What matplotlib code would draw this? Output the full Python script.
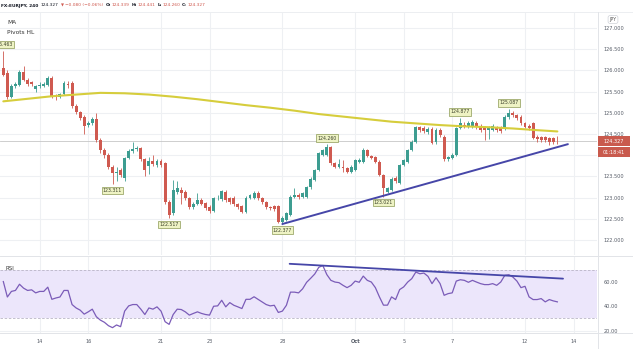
import matplotlib
matplotlib.use("Agg")
import matplotlib.pyplot as plt
from matplotlib.patches import Rectangle
from matplotlib.lines import Line2D
from matplotlib.text import Annotation

# ---- 4h EUR/JPY bars ----
opens = [126.05, 125.95, 125.38, 125.62, 125.66, 125.96, 125.78, 125.72, 125.55, 125.62,
         125.63, 125.66, 125.83, 125.40, 125.37, 125.44, 125.68, 125.70, 125.17, 125.01,
         124.91, 124.72, 124.76, 124.85, 124.36, 124.12, 124.00, 123.73, 123.58, 123.65,
         123.46, 123.93, 124.10, 124.14, 124.16, 123.90, 123.74, 123.87, 123.77, 123.87,
         123.81, 122.90, 122.63, 123.14, 123.18, 123.14, 122.98, 122.78, 122.86, 122.94,
         122.87, 122.78, 122.69, 122.98, 122.96, 123.14, 122.98, 123.00, 122.85, 122.79,
         122.67, 123.00, 123.00, 123.12, 122.98, 122.90, 122.77, 122.79, 122.79, 122.43,
         122.47, 122.59, 123.02, 123.07, 123.01, 123.02, 123.24, 123.42, 123.65, 124.00,
         124.00, 124.19, 123.81, 123.73, 123.73, 123.69, 123.61, 123.65, 123.85, 123.85,
         124.12, 123.98, 123.95, 123.85, 123.53, 123.14, 123.18, 123.47, 123.34, 123.77,
         123.85, 124.12, 124.32, 124.66, 124.64, 124.55, 124.62, 124.30, 124.59, 124.44,
         123.90, 123.93, 124.00, 124.64, 124.72, 124.69, 124.69, 124.77, 124.69, 124.63,
         124.59, 124.59, 124.66, 124.66, 124.64, 124.89, 124.99, 124.95, 124.91, 124.75,
         124.70, 124.75, 124.44, 124.42, 124.42, 124.40, 124.40, 124.339]
highs = [126.463, 126.00, 125.68, 125.72, 126.00, 126.11, 125.82, 125.76, 125.66, 125.72,
         125.73, 125.86, 125.86, 125.44, 125.47, 125.74, 125.74, 125.74, 125.20, 125.04,
         124.95, 124.80, 124.90, 125.00, 124.40, 124.16, 124.04, 123.76, 123.73, 123.70,
         123.96, 124.14, 124.30, 124.22, 124.20, 123.93, 123.95, 124.00, 123.92, 123.91,
         123.85, 122.95, 123.42, 123.38, 123.25, 123.17, 123.02, 122.90, 123.12, 122.98,
         122.90, 122.82, 123.01, 123.05, 123.18, 123.17, 123.01, 123.03, 122.88, 122.82,
         123.03, 123.09, 123.15, 123.15, 123.01, 122.93, 122.80, 122.82, 122.82, 122.56,
         122.66, 123.05, 123.22, 123.10, 123.13, 123.27, 123.48, 123.68, 124.07, 124.15,
         124.260, 124.22, 123.84, 123.92, 123.88, 123.72, 123.76, 123.92, 123.93, 124.18,
         124.15, 124.01, 123.98, 123.88, 123.56, 123.26, 123.48, 123.50, 123.80, 123.92,
         124.15, 124.35, 124.70, 124.70, 124.69, 124.66, 124.66, 124.63, 124.64, 124.47,
         123.99, 124.04, 124.67, 124.877, 124.79, 124.80, 124.83, 124.81, 124.74, 124.68,
         124.68, 124.73, 124.70, 124.70, 124.94, 125.087, 125.04, 124.98, 124.94, 124.78,
         124.73, 124.78, 124.48, 124.46, 124.45, 124.43, 124.44, 124.441]
lows = [125.86, 125.32, 125.34, 125.58, 125.62, 125.74, 125.64, 125.62, 125.50, 125.58,
        125.60, 125.63, 125.36, 125.31, 125.34, 125.41, 125.58, 125.12, 124.96, 124.84,
        124.51, 124.66, 124.72, 124.32, 124.05, 123.94, 123.68, 123.311, 123.40, 123.48,
        123.40, 123.90, 124.06, 124.10, 123.86, 123.50, 123.55, 123.74, 123.72, 123.72,
        122.86, 122.517, 122.58, 123.08, 122.85, 122.94, 122.74, 122.74, 122.82, 122.82,
        122.70, 122.64, 122.66, 122.94, 122.92, 122.90, 122.86, 122.80, 122.72, 122.63,
        122.64, 122.96, 122.97, 122.95, 122.86, 122.73, 122.70, 122.69, 122.40, 122.377,
        122.44, 122.56, 122.98, 122.97, 122.98, 122.99, 123.21, 123.40, 123.62, 123.97,
        123.97, 123.77, 123.69, 123.70, 123.61, 123.57, 123.58, 123.62, 123.81, 123.82,
        123.95, 123.90, 123.82, 123.50, 123.021, 123.10, 123.15, 123.35, 123.31, 123.74,
        123.82, 124.09, 124.29, 124.55, 124.53, 124.50, 124.26, 124.27, 124.44, 123.86,
        123.86, 123.90, 123.97, 124.61, 124.64, 124.64, 124.65, 124.62, 124.55, 124.36,
        124.38, 124.56, 124.55, 124.52, 124.60, 124.86, 124.91, 124.83, 124.71, 124.63,
        124.60, 124.37, 124.32, 124.32, 124.30, 124.24, 124.27, 124.260]
closes = [125.89, 125.38, 125.62, 125.67, 125.96, 125.78, 125.68, 125.67, 125.62, 125.66,
          125.67, 125.81, 125.38, 125.37, 125.44, 125.70, 125.66, 125.17, 125.01, 124.88,
          124.70, 124.76, 124.86, 124.36, 124.12, 124.00, 123.73, 123.57, 123.60, 123.53,
          123.93, 124.10, 124.14, 124.16, 123.90, 123.65, 123.86, 123.79, 123.87, 123.77,
          122.90, 122.59, 123.18, 123.22, 123.10, 122.98, 122.78, 122.86, 122.94, 122.86,
          122.75, 122.69, 122.98, 123.00, 123.15, 122.94, 122.90, 122.85, 122.77, 122.67,
          123.00, 123.05, 123.12, 122.98, 122.90, 122.77, 122.75, 122.73, 122.43, 122.51,
          122.63, 123.02, 123.07, 123.01, 123.10, 123.24, 123.45, 123.65, 124.04, 124.12,
          124.19, 123.81, 123.73, 123.79, 123.69, 123.61, 123.73, 123.89, 123.89, 124.12,
          123.98, 123.93, 123.85, 123.53, 123.22, 123.22, 123.45, 123.38, 123.77, 123.89,
          124.12, 124.32, 124.66, 124.59, 124.57, 124.62, 124.29, 124.59, 124.48, 123.90,
          123.95, 124.00, 124.64, 124.75, 124.68, 124.75, 124.79, 124.66, 124.59, 124.60,
          124.63, 124.69, 124.59, 124.56, 124.91, 124.99, 124.95, 124.87, 124.75, 124.67,
          124.64, 124.40, 124.38, 124.36, 124.36, 124.32, 124.32, 124.327]

# RSI(14) per bar
rsi = [60.3, 47.6, 52.2, 53.0, 58.1, 54.9, 53.0, 53.5, 51.0, 52.2,
       52.2, 55.7, 45.7, 46.8, 47.6, 53.0, 53.0, 41.4, 38.6, 36.8,
       33.5, 35.4, 37.6, 31.4, 28.6, 26.8, 24.0, 22.4, 24.6, 23.2,
       36.0, 40.3, 41.4, 41.4, 37.6, 33.2, 38.6, 37.6, 39.5, 36.0,
       27.3, 25.1, 33.2, 37.6, 37.3, 35.4, 32.7, 34.1, 35.4, 34.1,
       33.2, 32.7, 40.0, 40.3, 44.9, 39.5, 43.0, 40.8, 39.5, 38.1,
       45.7, 45.7, 47.8, 45.7, 43.5, 41.4, 40.3, 40.8, 34.9, 36.0,
       40.8, 51.6, 51.6, 51.0, 54.3, 59.7, 63.0, 66.5, 72.0, 73.5,
       66.0, 61.3, 59.9, 59.4, 57.2, 55.3, 57.2, 60.7, 59.7, 64.8,
       61.3, 59.9, 55.3, 47.7, 40.9, 40.9, 47.7, 45.5, 53.7, 55.9,
       59.9, 62.7, 68.1, 66.7, 67.3, 64.6, 58.6, 63.5, 58.6, 49.0,
       50.4, 51.0, 60.7, 61.8, 61.3, 59.7, 61.3, 59.9, 58.6, 57.8,
       57.8, 58.6, 57.2, 59.9, 65.4, 65.9, 64.0, 60.7, 55.3, 56.4,
       47.7, 45.5, 45.5, 46.3, 43.6, 45.5, 44.4, 43.6]

# moving average, one reading per trading day
ma_idx = [0, 6, 12, 18, 24, 30, 36, 42, 48, 54, 60, 66, 72, 78, 84, 90, 96, 102,
          108, 114, 120, 126, 132, 137]
ma_val = [125.27, 125.33, 125.39, 125.43, 125.47, 125.46, 125.43, 125.38, 125.32,
          125.25, 125.18, 125.12, 125.05, 124.97, 124.91, 124.85, 124.79, 124.75,
          124.71, 124.68, 124.66, 124.63, 124.59, 124.56]

tick_idx = [9, 21, 39, 51, 69, 87, 99, 111, 129, 141]
tick_labels = ["14", "16", "21", "23", "28", "Oct", "5", "7", "12", "14"]
price_ticks = [122.0, 122.5, 123.0, 123.5, 124.0, 124.5, 125.0, 125.5, 126.0, 126.5, 127.0]
rsi_ticks = [20, 40, 60]

pivot_idx = [0, 27, 41, 69, 80, 94, 113, 125]
pivot_kind = ["H", "L", "L", "L", "H", "L", "H", "H"]
pivot_val = [126.463, 123.311, 122.517, 122.377, 124.260, 123.021, 124.877, 125.087]

support_x = [69, 139.6]
support_y = [122.377, 124.26]
rsi_line_x = [70.8, 138.4]
rsi_line_y = [74.9, 62.7]

symbol = "FX:EURJPY, 240"
change_text = "\u22120.080 (\u22120.06%)"
countdown = "01:18:41"
last_price = closes[-1]

# ---- styling ----
UP = "#3d9d91"
DOWN = "#cf5a50"
GRID = "#eef0f3"
TXT = "#555b66"
W, H = 633, 349


def fx(px):
    return px / W


def fy(py):
    return 1 - py / H


fig = plt.figure(figsize=(W / 100, H / 100), dpi=100)
fig.patch.set_facecolor("white")
ax = fig.add_axes([0, fy(255), fx(597), fy(12) - fy(255)])
axr = fig.add_axes([0, fy(333), fx(597), fy(257) - fy(333)], sharex=ax)

n = len(closes)
xs = list(range(n))

# grid
for t in tick_idx:
    ax.axvline(t, color=GRID, lw=0.8, zorder=0)
    axr.axvline(t, color=GRID, lw=0.8, zorder=0)
for p in price_ticks:
    ax.axhline(p, color=GRID, lw=0.8, zorder=0)
for r in rsi_ticks:
    axr.axhline(r, color=GRID, lw=0.8, zorder=0)

# candles
cols = [UP if c >= o else DOWN for o, c in zip(opens, closes)]
ax.vlines(xs, lows, highs, colors=cols, lw=0.6, zorder=3)
bottoms = [min(o, c) for o, c in zip(opens, closes)]
heights = [max(abs(c - o), 0.012) for o, c in zip(opens, closes)]
ax.bar(xs, heights, bottom=bottoms, width=0.72, color=cols, edgecolor="none", zorder=4)

# moving average and last-price line
ax.plot(ma_idx, ma_val, color="#d6cd3c", lw=1.5, zorder=5, solid_capstyle="round")
ax.axhline(last_price, color="#c6c6c6", lw=0.6, zorder=1)

# support line
ax.plot(support_x, support_y, color="#4646a8", lw=1.4, zorder=6, solid_capstyle="round")

# pivot labels
for j, k, v in zip(pivot_idx, pivot_kind, pivot_val):
    off = 4.4 if k == "H" else -4.4
    ax.annotate(f"{v:.3f}", xy=(j, v), xytext=(0, off), textcoords="offset points",
                ha="center", va="center", fontsize=3.3, color="#3a3f2a", zorder=8,
                annotation_clip=False,
                bbox=dict(boxstyle="square,pad=0.25", fc="#eef3c4", ec="#8c9a55", lw=0.5))

ax.set_xlim(-0.82, 146.8)
ax.set_ylim(121.646, 127.377)
ax.yaxis.tick_right()
ax.set_yticks(price_ticks)
ax.set_yticklabels([f"{p:.3f}" for p in price_ticks])
ax.tick_params(axis="y", length=0, pad=5, labelsize=3.6, labelcolor=TXT)
ax.tick_params(axis="x", length=0, labelbottom=False)
for s in ax.spines.values():
    s.set_visible(False)

# ---- RSI panel ----
axr.axhspan(30, 70, color="#ece6fb", lw=0, zorder=1)
axr.axhline(70, color="#b9b4c6", lw=0.6, ls=(0, (3, 2)), zorder=2)
axr.axhline(30, color="#b9b4c6", lw=0.6, ls=(0, (3, 2)), zorder=2)
axr.plot(xs, rsi, color="#7b5cb8", lw=0.9, zorder=4)
axr.plot(rsi_line_x, rsi_line_y, color="#4646a8", lw=1.3, zorder=5, solid_capstyle="round")
axr.set_ylim(18, 80.5)
axr.yaxis.tick_right()
axr.set_yticks(rsi_ticks)
axr.set_yticklabels([f"{r:.2f}" for r in rsi_ticks])
axr.tick_params(axis="y", length=0, pad=5, labelsize=3.6, labelcolor=TXT)
axr.set_xticks(tick_idx)
axr.set_xticklabels(tick_labels)
axr.tick_params(axis="x", length=0, pad=4.5, labelsize=3.6, labelcolor=TXT)
for lab in axr.get_xticklabels():
    if lab.get_text() == "Oct":
        lab.set_fontweight("bold")
for s in axr.spines.values():
    s.set_visible(False)


# ---- panel borders ----
def hline(py, x0=0, x1=W, color="#e2e4e8", lw=0.7):
    fig.add_artist(Line2D([fx(x0), fx(x1)], [fy(py), fy(py)], color=color, lw=lw))


def vline(px, y0=0, y1=H, color="#e2e4e8", lw=0.7):
    fig.add_artist(Line2D([fx(px), fx(px)], [fy(y0), fy(y1)], color=color, lw=lw))


hline(12, color="#eceef1")
hline(256)
hline(333)
vline(597.5, 12, 349)

# ---- text overlays ----
fig.text(fx(7), fy(22), "MA", fontsize=4.2, color="#333", va="center")
fig.text(fx(7), fy(32), "Pivots HL", fontsize=4.2, color="#333", va="center")
fig.text(fx(5), fy(269), "RSI", fontsize=4.0, color="#333", va="center")

# header legend, each piece placed right after the previous one
HDR = 3.15
prev = fig.text(fx(1), fy(5.5), symbol, fontsize=HDR, fontweight="bold",
                color="#131722", va="center")
pieces = [(f"{last_price:.3f}", "#131722", "normal", 1.8),
          ("\u25bc", DOWN, "normal", 1.4),
          (change_text, DOWN, "normal", 1.2),
          ("O:", "#131722", "bold", 1.8), (f"{opens[-1]:.3f}", DOWN, "normal", 0.3),
          ("H:", "#131722", "bold", 1.4), (f"{highs[-1]:.3f}", DOWN, "normal", 0.3),
          ("L:", "#131722", "bold", 1.4), (f"{lows[-1]:.3f}", DOWN, "normal", 0.3),
          ("C:", "#131722", "bold", 1.4), (f"{closes[-1]:.3f}", DOWN, "normal", 0.3)]
for s, c, wgt, gap in pieces:
    a = Annotation(s, xy=(1, 0.5), xycoords=prev, xytext=(gap, 0),
                   textcoords="offset points", ha="left", va="center",
                   fontsize=HDR if s != "\u25bc" else 2.8, color=c, fontweight=wgt)
    fig.add_artist(a)
    prev = a

# currency badge
fig.text(fx(613), fy(19.5), "JPY", fontsize=3.4, color="#555", ha="center", va="center",
         bbox=dict(boxstyle="round,pad=0.3,rounding_size=0.4", fc="white", ec="#cfd2d8", lw=0.5))

# last price and countdown tags, positioned from the price scale
y0, y1 = ax.get_ylim()
ax_top, ax_bot = 12, 255
py_last = ax_top + (y1 - last_price) / (y1 - y0) * (ax_bot - ax_top)
fig.add_artist(Rectangle((fx(598), fy(py_last + 5)), fx(32), fy(py_last - 5) - fy(py_last + 5),
                         transform=fig.transFigure, fc="#c95a4d", ec="none", zorder=10))
fig.text(fx(614), fy(py_last), f"{last_price:.3f}", fontsize=3.6, color="white",
         ha="center", va="center", zorder=11)
fig.add_artist(Rectangle((fx(598), fy(py_last + 15.5)), fx(32), fy(py_last + 6) - fy(py_last + 15.5),
                         transform=fig.transFigure, fc="#c95a4d", ec="none", zorder=10))
fig.text(fx(614), fy(py_last + 10.7), countdown, fontsize=3.6, color="white",
         ha="center", va="center", zorder=11)

fig.savefig("out.png", dpi=100, facecolor="white")
